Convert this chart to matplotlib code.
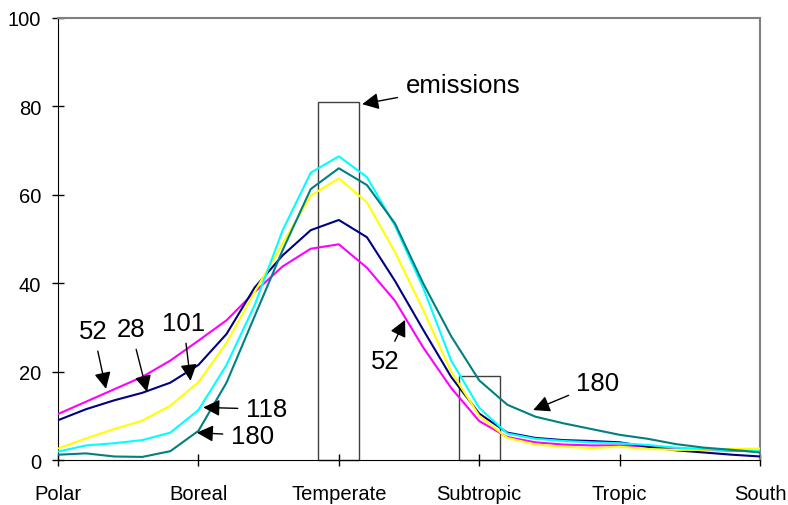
import matplotlib
matplotlib.use('Agg')
import matplotlib.pyplot as plt
import numpy as np

plt.rcParams['font.family'] = ['Liberation Sans', 'DejaVu Sans']

# 26 sample points, category labels every 5 points
zones = ['Polar', 'Boreal', 'Temperate', 'Subtropic', 'Tropic', 'South']
zone_idx = [0, 5, 10, 15, 20, 25]

s52 = [10.4, 13.2, 16.0, 18.8, 22.5, 27.0, 31.6, 38.0, 43.8, 47.8, 48.8, 43.5, 36.0,
       25.5, 16.3, 8.8, 5.2, 4.0, 3.5, 3.3, 3.3, 3.0, 2.6, 2.3, 2.1, 2.0]
s28 = [9.0, 11.5, 13.5, 15.2, 17.5, 21.5, 28.5, 39.0, 46.3, 52.0, 54.3, 50.4, 40.5,
       29.5, 18.8, 10.5, 6.2, 5.0, 4.5, 4.3, 4.0, 3.0, 2.2, 1.7, 1.2, 0.8]
s101 = [2.6, 4.9, 7.0, 8.9, 12.3, 17.6, 26.5, 38.0, 49.0, 59.8, 63.7, 58.3, 47.0,
        34.0, 20.0, 10.0, 5.0, 3.5, 3.0, 2.7, 3.0, 2.5, 2.3, 2.3, 2.5, 2.6]
s118 = [1.9, 3.3, 3.8, 4.5, 6.2, 11.3, 21.5, 35.0, 52.0, 65.0, 68.7, 64.0, 53.0,
        39.0, 22.5, 11.8, 6.0, 4.8, 4.3, 4.0, 3.8, 3.4, 2.8, 2.5, 2.2, 2.0]
s180 = [1.2, 1.5, 0.8, 0.7, 2.0, 6.6, 17.5, 32.5, 47.5, 61.3, 66.0, 62.2, 53.5,
        40.0, 28.0, 18.0, 12.5, 9.8, 8.3, 7.0, 5.7, 4.8, 3.6, 2.8, 2.3, 1.7]

# emissions boxes
emis_idx = [10, 15]
emis_val = [81, 19]

x = np.arange(len(s52))

fig = plt.figure(figsize=(7.88, 5.06), dpi=100)
ax = fig.add_axes([0.0736, 0.0889, 0.891, 0.8736])

ax.bar(emis_idx, emis_val, width=1.45, facecolor='none', edgecolor='#404040',
       linewidth=1.0, clip_on=False, zorder=1)

ax.plot(x, s52, color='#FF00FF', lw=1.5, zorder=3)
ax.plot(x, s28, color='#000080', lw=1.5, zorder=3)
ax.plot(x, s101, color='#FFFF00', lw=1.5, zorder=3)
ax.plot(x, s118, color='#00FFFF', lw=1.5, zorder=3)
ax.plot(x, s180, color='#008080', lw=1.5, zorder=3)

ax.set_xlim(0, 25)
ax.set_ylim(0, 100)
ax.set_xticks(zone_idx)
ax.set_xticklabels(zones)
ax.set_yticks(range(0, 101, 20))
ax.tick_params(axis='both', direction='inout', length=8, width=1, labelsize=14.5)
ax.tick_params(axis='x', pad=13)
ax.tick_params(axis='y', pad=8)

for side in ['left', 'bottom']:
    ax.spines[side].set_color('black')
for side in ['top', 'right']:
    ax.spines[side].set_color('#808080')
    ax.spines[side].set_linewidth(1.5)

arrow = dict(arrowstyle='-|>,head_length=0.5,head_width=0.25', color='black',
             lw=1, mutation_scale=20, shrinkA=4, shrinkB=0)
fs = 18.5

# (label, text position, arrow tip) in data coordinates
notes = [
    ('52', (1.26, 29.2), (1.71, 16.1)),
    ('28', (2.60, 29.6), (3.17, 15.4)),
    ('101', (4.47, 31.0), (4.72, 17.9)),
    ('118', (7.43, 11.5), (5.17, 11.9)),
    ('180', (6.93, 5.5), (4.94, 6.2)),
    ('52', (11.65, 22.4), (12.36, 31.7)),
    ('180', (19.23, 17.4), (16.92, 11.3)),
    ('emissions', (14.42, 84.8), (10.83, 80.5)),
]
for label, txt, tip in notes:
    ax.annotate(label, xy=tip, xytext=txt, ha='center', va='center',
                fontsize=fs, arrowprops=arrow, zorder=5)

fig.savefig('out.png', dpi=100)
